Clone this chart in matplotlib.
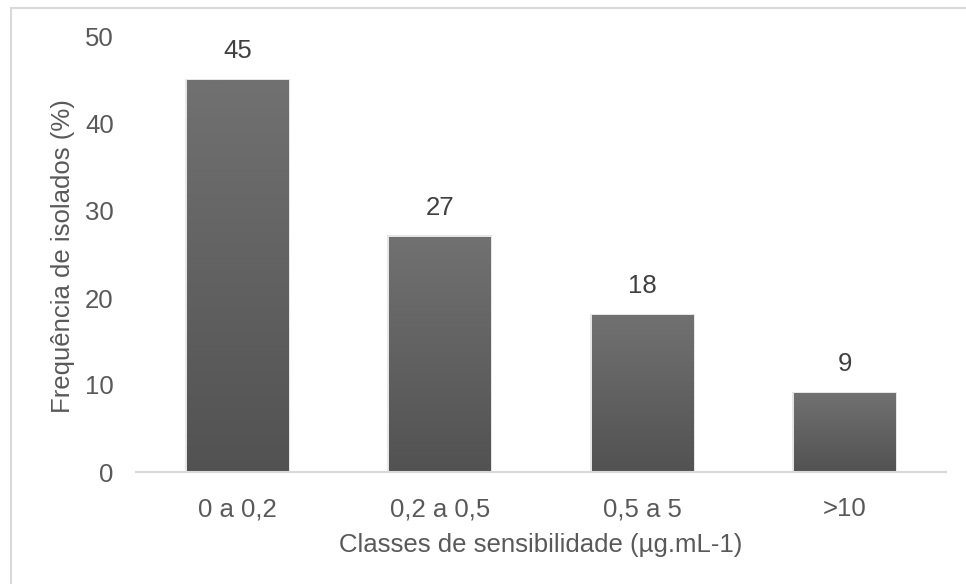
import numpy as np
import matplotlib.pyplot as plt
from matplotlib.patches import Rectangle
from matplotlib.colors import LinearSegmentedColormap

# ----------------------------
# Data
# ----------------------------
classes = ["0 a 0,2", "0,2 a 0,5", "0,5 a 5", ">10"]
freq = [45, 27, 18, 9]
yticks = [0, 10, 20, 30, 40, 50]

txt_color = "#595959"
fsize = 18.5
plt.rcParams["font.family"] = ["Liberation Sans", "DejaVu Sans"]

fig = plt.figure(figsize=(9.66, 5.84), dpi=100)
ax = fig.add_axes([136 / 966, 1 - 472 / 584, 810 / 966, (472 - 37) / 584])

x = np.arange(len(classes))
bars = ax.bar(x, freq, width=0.5, color="none", edgecolor="none", zorder=2)

# vertical grey gradient inside each bar, plus a faint shadow
grad = LinearSegmentedColormap.from_list("g", ["#525252", "#717171"])
g = np.linspace(0, 1, 256).reshape(-1, 1)
for b in bars:
    x0, w, h = b.get_x(), b.get_width(), b.get_height()
    ax.add_patch(Rectangle((x0 - 0.01, 0), w + 0.02, h + 0.2,
                           facecolor="#cfcfcf", edgecolor="none", alpha=0.5, zorder=1))
    ax.imshow(g, cmap=grad, origin="lower", aspect="auto",
              extent=[x0, x0 + w, 0, h], zorder=3)
    ax.text(b.get_x() + w / 2, h + 3.4, f"{h:g}", ha="center", va="center",
            fontsize=fsize, color="#404040")

ax.set_xlim(-0.5, len(classes) - 0.5)
ax.set_ylim(0, 50)
ax.set_yticks(yticks)
ax.set_xticks(x)
ax.set_xticklabels(classes)
ax.tick_params(axis="both", length=0, labelsize=fsize, colors=txt_color)
ax.tick_params(axis="y", pad=16)
ax.tick_params(axis="x", pad=18)

for s in ["top", "right", "left"]:
    ax.spines[s].set_visible(False)
ax.spines["bottom"].set_color("#d9d9d9")
ax.spines["bottom"].set_linewidth(1.5)
ax.spines["bottom"].set_zorder(4)

ax.set_xlabel("Classes de sensibilidade (µg.mL-1)", fontsize=fsize, color=txt_color)
ax.set_ylabel("Frequência de isolados (%)", fontsize=fsize, color=txt_color)
ax.xaxis.set_label_coords(0.5, (472 - 545) / 435, transform=ax.transAxes)
ax.yaxis.set_label_coords((63 - 136) / 810, (472 - 256) / 435, transform=ax.transAxes)
ax.xaxis.label.set_va("center")
ax.yaxis.label.set_va("center")

# light frame of the original chart area (only top and left visible)
fig.add_artist(plt.Line2D([11 / 966, 11 / 966], [0, 1 - 8 / 584], transform=fig.transFigure,
                          color="#d9d9d9", lw=1.5))
fig.add_artist(plt.Line2D([11 / 966, 1], [1 - 8 / 584, 1 - 8 / 584], transform=fig.transFigure,
                          color="#d9d9d9", lw=1.5))

fig.savefig("out.png", dpi=100, facecolor="white")
